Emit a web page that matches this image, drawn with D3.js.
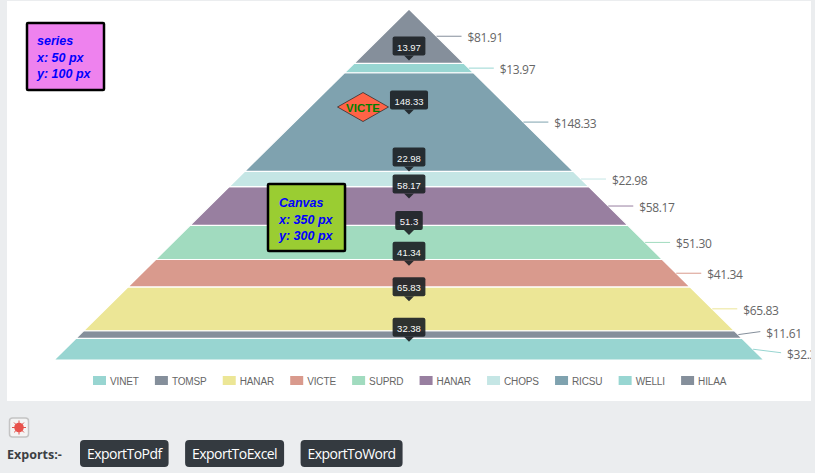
<!DOCTYPE html>
<html lang="en">
<head>
    <meta charset="UTF-8">
    <title>Pyramid</title>
    <script src="https://cdnjs.cloudflare.com/ajax/libs/d3/7.8.5/d3.min.js" charset="utf-8"></script>
    <style>
        html, body { margin: 0; padding: 0; background: #ebedef; overflow: hidden; }
        svg { display: block; }
    </style>
</head>
<body>
<svg id="page" width="815" height="473"></svg>

<script type="application/javascript">
    // bottom slice first
    var categories = ['VINET', 'TOMSP', 'HANAR', 'VICTE', 'SUPRD', 'HANAR', 'CHOPS', 'RICSU', 'WELLI', 'HILAA'];
    var values = [32.38, 11.61, 65.83, 41.34, 51.30, 58.17, 22.98, 148.33, 13.97, 81.91];
    var colors = ['#98d5d1', '#858f9b', '#ece696', '#d99a8d', '#a1dbbf', '#987fa0', '#c5e6e5', '#7fa2af', '#98d6d2', '#858f9b'];
    var tooltipHidden = ['TOMSP', 'HILAA'];
    var exportButtons = ['ExportToPdf', 'ExportToExcel', 'ExportToWord'];
    var seriesNote = ['series', 'x: 50 px', 'y: 100 px'];
    var canvasNote = ['Canvas', 'x: 350 px', 'y: 300 px'];

    var svg = d3.select('#page');
    var labelFont = '"Open Sans", "Noto Sans", sans-serif';
    var arial = '"Liberation Sans", Arial, sans-serif';

    var total = d3.sum(values);
    var apex = { x: 409, y: 9 };
    var baseY = 360;
    var baseHalf = 355;

    var yScale = d3.scaleLinear().domain([0, total]).range([baseY, apex.y]);
    var halfScale = d3.scaleLinear().domain([0, total]).range([baseHalf, 0]);

    var slices = [];
    var running = 0;
    values.forEach(function (v, i) {
        slices.push({ name: categories[i], value: v, color: colors[i], index: i, from: running, to: running + v, mid: running + v / 2 });
        running += v;
    });

    init();

    function init() {
        svg.append('rect').attr('x', 7).attr('y', 1).attr('width', 804).attr('height', 400).attr('fill', '#fff');
        svg.append('clipPath').attr('id', 'panel-clip').append('rect').attr('x', 7).attr('y', 1).attr('width', 804).attr('height', 400);
        renderPyramid();
        renderConnectors();
        renderLegend();
        renderNote(seriesNote, 27, 23, '#ee82ee', 10, 45);
        renderNote(canvasNote, 268, 184, '#9acd32', 11, 207);
        renderDiamond();
        renderTooltips();
        renderFooter();
    }

    function renderPyramid() {
        var line = d3.line();
        svg.append('g').attr('id', 'slices').selectAll('path')
            .data(slices)
            .enter()
            .append('path')
            .attr('d', function (d) {
                var yb = yScale(d.from), yt = yScale(d.to);
                var hb = halfScale(d.from), ht = halfScale(d.to);
                return line([[apex.x - hb, yb], [apex.x + hb, yb], [apex.x + ht, yt], [apex.x - ht, yt]]) + 'Z';
            })
            .attr('fill', function (d) { return d.color; })
            .attr('stroke', '#fff')
            .attr('stroke-width', 1.2);
    }

    function renderConnectors() {
        var g = svg.append('g').attr('id', 'connectors').attr('clip-path', 'url(#panel-clip)');
        slices.forEach(function (d) {
            var y = yScale(d.mid);
            var x = apex.x + halfScale(d.mid);
            // the two bottom labels are pushed apart
            var nudge = d.index === 0 ? 3.5 : d.index === 1 ? -3 : 0;
            var x2 = x + (d.index === 1 ? 22 : d.index === 0 ? 28 : 25);
            g.append('line')
                .attr('x1', x).attr('y1', y)
                .attr('x2', x2).attr('y2', y + nudge)
                .attr('stroke', d.color)
                .attr('stroke-width', 1);
            g.append('text')
                .attr('x', x2 + 6)
                .attr('y', y + nudge + 6)
                .attr('font-family', labelFont)
                .attr('font-size', '12px')
                .attr('letter-spacing', '-0.35px')
                .attr('fill', '#666')
                .text('$' + d.value.toFixed(2));
        });
    }

    function renderLegend() {
        var g = svg.append('g').attr('id', 'legend');
        var x = 93;
        slices.forEach(function (d) {
            g.append('rect')
                .attr('x', x).attr('y', 376)
                .attr('width', 13).attr('height', 9)
                .attr('fill', d.color);
            var t = g.append('text')
                .attr('x', x + 17)
                .attr('y', 385)
                .attr('font-family', arial)
                .attr('font-size', '10px')
                .attr('letter-spacing', '-0.15px')
                .attr('fill', '#666')
                .text(d.name);
            x += 17 + t.node().getComputedTextLength() + 16.2;
        });
    }

    function renderNote(lines, x, y, fill, pad, firstBaseline) {
        var g = svg.append('g');
        g.append('rect')
            .attr('x', x).attr('y', y)
            .attr('width', 77).attr('height', 67)
            .attr('rx', 1)
            .attr('fill', fill)
            .attr('stroke', '#000')
            .attr('stroke-width', 2.5);
        g.selectAll('text')
            .data(lines)
            .enter()
            .append('text')
            .attr('x', x + pad)
            .attr('y', function (d, i) { return firstBaseline + i * 16.5; })
            .attr('font-family', arial)
            .attr('font-size', '12.5px')
            .attr('font-weight', 'bold')
            .attr('font-style', 'italic')
            .attr('fill', '#0000ff')
            .text(function (d) { return d; });
    }

    function renderDiamond() {
        var cx = 363, cy = 107;
        svg.append('path')
            .attr('d', d3.line()([[cx - 25.5, cy], [cx, cy - 14.5], [cx + 25.5, cy], [cx, cy + 14.5]]) + 'Z')
            .attr('fill', '#ff6347')
            .attr('stroke', '#222')
            .attr('stroke-width', 0.7);
        svg.append('text')
            .attr('x', cx).attr('y', cy + 4.5)
            .attr('text-anchor', 'middle')
            .attr('font-family', arial)
            .attr('font-size', '11.5px')
            .attr('font-weight', 'bold')
            .attr('fill', '#008000')
            .text('VICTE');
    }

    function renderTooltips() {
        var shown = slices.filter(function (d) { return tooltipHidden.indexOf(d.name) < 0; });
        // drawn top down, lower ones overlap the one above
        shown.reverse().forEach(function (d) {
            var tipY = yScale(d.mid) - 7.5;
            var g = svg.append('g').attr('opacity', 0.92);
            var label = String(d.value);
            var t = g.append('text')
                .attr('x', apex.x)
                .attr('y', tipY - 10)
                .attr('text-anchor', 'middle')
                .attr('font-family', arial)
                .attr('font-size', '9.5px')
                .attr('fill', '#fff')
                .text(label);
            var w = t.node().getComputedTextLength() + 9;
            g.insert('path', 'text')
                .attr('d', d3.line()([[apex.x - 5, tipY - 5], [apex.x, tipY], [apex.x + 5, tipY - 5]]) + 'Z')
                .attr('fill', '#1e2327');
            g.insert('rect', 'text')
                .attr('x', apex.x - w / 2)
                .attr('y', tipY - 24)
                .attr('width', w)
                .attr('height', 19)
                .attr('rx', 2)
                .attr('fill', '#1e2327');
        });
    }

    function renderFooter() {
        // bug icon button
        svg.append('rect')
            .attr('x', 9.5).attr('y', 418)
            .attr('width', 19).attr('height', 19)
            .attr('rx', 3)
            .attr('fill', '#f4f4f4')
            .attr('stroke', '#c4c4c4')
            .attr('stroke-width', 1.5);
        var bug = svg.append('g').attr('stroke', '#e0524c').attr('stroke-width', 1);
        d3.range(0, 360, 45).forEach(function (a) {
            var r = a * Math.PI / 180;
            bug.append('line')
                .attr('x1', 19).attr('y1', 427.5)
                .attr('x2', 19 + 7 * Math.cos(r)).attr('y2', 427.5 + 7 * Math.sin(r));
        });
        svg.append('circle').attr('cx', 19).attr('cy', 427.5).attr('r', 4.8).attr('fill', '#e8524c');

        svg.append('text')
            .attr('x', 7).attr('y', 459)
            .attr('font-family', labelFont)
            .attr('font-size', '12.5px')
            .attr('font-weight', 'bold')
            .attr('fill', '#3c4043')
            .text('Exports:-');

        var x = 80;
        exportButtons.forEach(function (name) {
            var g = svg.append('g');
            var t = g.append('text')
                .attr('x', x + 7)
                .attr('y', 459)
                .attr('font-family', labelFont)
                .attr('font-size', '14px')
                .attr('letter-spacing', '-0.55px')
                .attr('fill', '#fff')
                .text(name);
            var w = t.node().getComputedTextLength() + 14;
            g.insert('rect', 'text')
                .attr('x', x).attr('y', 440)
                .attr('width', w).attr('height', 27)
                .attr('rx', 4)
                .attr('fill', '#343a40');
            x += w + 16.5;
        });
    }
</script>
</body>
</html>
